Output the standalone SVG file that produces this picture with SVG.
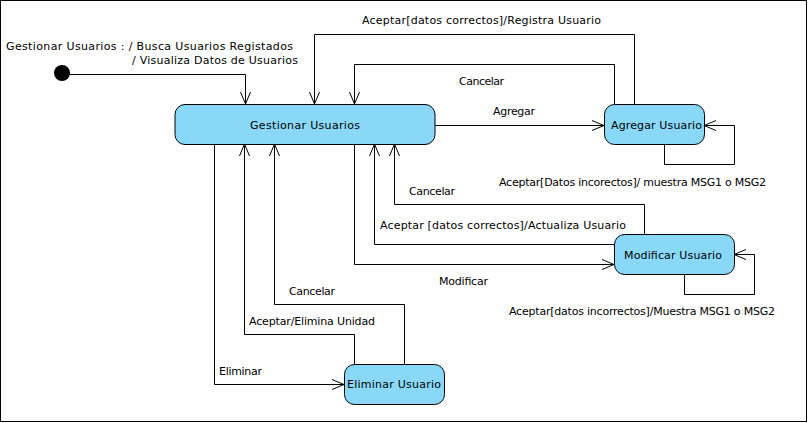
<svg xmlns="http://www.w3.org/2000/svg" width="808" height="423" viewBox="0 0 808 423">
<defs>
<style>
.node rect{fill:#8ad8f7;stroke:#000;stroke-width:1}
text{font-family:"DejaVu Sans",sans-serif;font-size:11px;fill:#000}
.nt{text-anchor:middle}
.e{fill:none;stroke:#000;stroke-width:1}
</style>
<marker id="arr" markerUnits="userSpaceOnUse" viewBox="-14 -7 16 14" markerWidth="16" markerHeight="14" refX="0" refY="0" orient="auto">
<path d="M-12,-5 L0,0 L-12,5" fill="none" stroke="#000" stroke-width="1"/>
</marker>
</defs>
<rect x="0.5" y="0.5" width="806" height="421" fill="#fff" stroke="#000" stroke-width="1"/>

<g id="connectors">
<path class="e" d="M62,74.5 H245.5 V104" marker-end="url(#arr)"/>
<path class="e" d="M634.5,104 V34.5 H314.5 V104" marker-end="url(#arr)"/>
<path class="e" d="M614.5,104 V64.5 H354.5 V104" marker-end="url(#arr)"/>
<path class="e" d="M435,125.5 H604" marker-end="url(#arr)"/>
<path class="e" d="M664.5,144 V164.5 H734.5 V125.5 H704" marker-end="url(#arr)"/>
<path class="e" d="M644.5,234 V204.5 H394.5 V144" marker-end="url(#arr)"/>
<path class="e" d="M614,244.5 H374.5 V144" marker-end="url(#arr)"/>
<path class="e" d="M354.5,144 V264.5 H614" marker-end="url(#arr)"/>
<path class="e" d="M684.5,274 V294.5 H754.5 V254.5 H734" marker-end="url(#arr)"/>
<path class="e" d="M214.5,144 V384.5 H344" marker-end="url(#arr)"/>
<path class="e" d="M354.5,364 V334.5 H244.5 V144" marker-end="url(#arr)"/>
<path class="e" d="M404.5,364 V304.5 H274.5 V144" marker-end="url(#arr)"/>
<text x="6" y="50" textLength="287" lengthAdjust="spacing">Gestionar Usuarios : / Busca Usuarios Registados</text>
<text x="132" y="64" textLength="166" lengthAdjust="spacing">/ Visualiza Datos de Usuarios</text>
<text x="362" y="24" textLength="239" lengthAdjust="spacing">Aceptar[datos correctos]/Registra Usuario</text>
<text x="459" y="85" textLength="45" lengthAdjust="spacing">Cancelar</text>
<text x="493" y="115" textLength="42" lengthAdjust="spacing">Agregar</text>
<text x="499" y="186" textLength="267" lengthAdjust="spacing">Aceptar[Datos incorectos]/ muestra MSG1 o MSG2</text>
<text x="409" y="195" textLength="46" lengthAdjust="spacing">Cancelar</text>
<text x="380" y="229" textLength="246" lengthAdjust="spacing">Aceptar [datos correctos]/Actualiza Usuario</text>
<text x="439" y="285" textLength="49" lengthAdjust="spacing">Modificar</text>
<text x="509" y="315" textLength="266" lengthAdjust="spacing">Aceptar[datos incorrectos]/Muestra MSG1 o MSG2</text>
<text x="289" y="295" textLength="46" lengthAdjust="spacing">Cancelar</text>
<text x="249" y="325" textLength="126" lengthAdjust="spacing">Aceptar/Elimina Unidad</text>
<text x="219" y="375" textLength="43" lengthAdjust="spacing">Eliminar</text>
</g>

<g id="initial"><circle cx="62" cy="73" r="8" fill="#000"/></g>
<g id="gestionar" class="node"><rect x="175" y="104.5" width="260" height="40" rx="10"/><text x="250" y="129" textLength="110" lengthAdjust="spacing">Gestionar Usuarios</text></g>
<g id="agregar" class="node"><rect x="604.5" y="104.5" width="100" height="40" rx="10"/><text x="611" y="129" textLength="91" lengthAdjust="spacing">Agregar Usuario</text></g>
<g id="modificar" class="node"><rect x="614.5" y="234.5" width="120" height="40" rx="10"/><text x="624" y="259" textLength="98" lengthAdjust="spacing">Modificar Usuario</text></g>
<g id="eliminar" class="node"><rect x="344.5" y="364.5" width="100" height="40" rx="10"/><text x="347" y="388" textLength="94" lengthAdjust="spacing">Eliminar Usuario</text></g>
</svg>
